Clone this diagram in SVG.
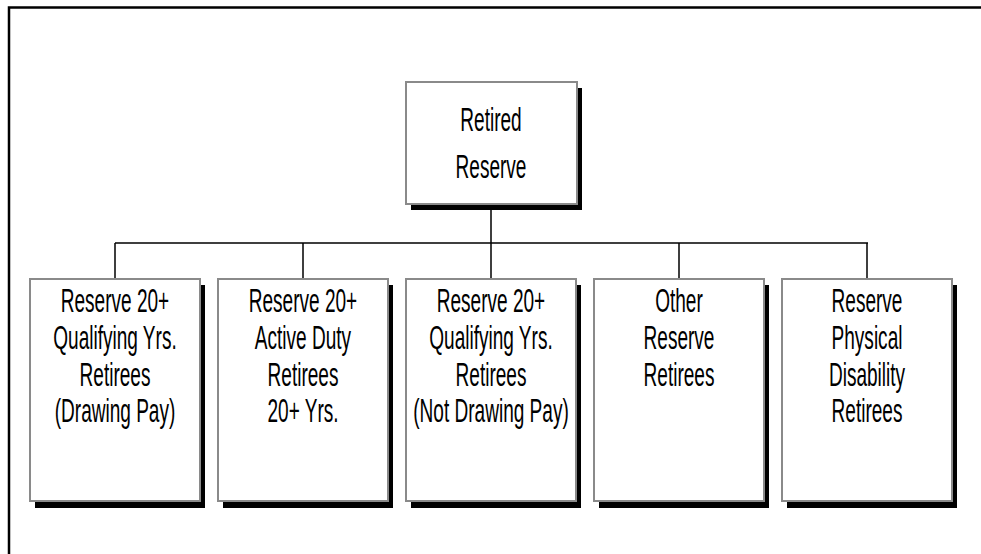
<svg xmlns="http://www.w3.org/2000/svg" width="981" height="554" viewBox="0 0 981 554">
<style>
.box{fill:#fff;stroke:#8a8a8a;stroke-width:2}
.sh{fill:#000}
.t{font-family:"Liberation Sans",Arial,sans-serif;font-size:34px;fill:#000;text-anchor:middle}
.ln{stroke:#000;stroke-width:1.5;fill:none}
</style>
<rect width="981" height="554" fill="#fff"/>
<path d="M9 554 V7.5 H981" fill="none" stroke="#000" stroke-width="2.5"/>
<g id="connectors">
<path class="ln" d="M491 209 V243 M115 243 H868 M115 243 V279 M303 243 V279 M491 243 V279 M679 243 V279 M867 243 V279"/>
</g>
<g id="root">
<rect class="sh" x="411" y="88" width="171" height="122"/>
<rect class="box" x="406" y="82" width="171" height="122"/>
<text class="t" transform="translate(491 131) scale(0.56 1)">Retired</text>
<text class="t" transform="translate(491 178) scale(0.56 1)">Reserve</text>
</g>
<g id="n1">
<rect class="sh" x="35" y="285" width="170" height="223"/>
<rect class="box" x="30" y="279" width="170" height="222"/>
<text class="t" transform="translate(115 312) scale(0.56 1)">Reserve 20+</text>
<text class="t" transform="translate(115 349) scale(0.56 1)">Qualifying Yrs.</text>
<text class="t" transform="translate(115 386) scale(0.56 1)">Retirees</text>
<text class="t" transform="translate(115 422) scale(0.56 1)">(Drawing Pay)</text>
</g>
<g id="n2">
<rect class="sh" x="223" y="285" width="170" height="223"/>
<rect class="box" x="218" y="279" width="170" height="222"/>
<text class="t" transform="translate(303 312) scale(0.56 1)">Reserve 20+</text>
<text class="t" transform="translate(303 349) scale(0.56 1)">Active Duty</text>
<text class="t" transform="translate(303 386) scale(0.56 1)">Retirees</text>
<text class="t" transform="translate(303 422) scale(0.56 1)">20+ Yrs.</text>
</g>
<g id="n3">
<rect class="sh" x="411" y="285" width="170" height="223"/>
<rect class="box" x="406" y="279" width="170" height="222"/>
<text class="t" transform="translate(491 312) scale(0.56 1)">Reserve 20+</text>
<text class="t" transform="translate(491 349) scale(0.56 1)">Qualifying Yrs.</text>
<text class="t" transform="translate(491 386) scale(0.56 1)">Retirees</text>
<text class="t" transform="translate(491 422) scale(0.56 1)">(Not Drawing Pay)</text>
</g>
<g id="n4">
<rect class="sh" x="599" y="285" width="170" height="223"/>
<rect class="box" x="594" y="279" width="170" height="222"/>
<text class="t" transform="translate(679 312) scale(0.56 1)">Other</text>
<text class="t" transform="translate(679 349) scale(0.56 1)">Reserve</text>
<text class="t" transform="translate(679 386) scale(0.56 1)">Retirees</text>
</g>
<g id="n5">
<rect class="sh" x="787" y="285" width="170" height="223"/>
<rect class="box" x="782" y="279" width="170" height="222"/>
<text class="t" transform="translate(867 312) scale(0.56 1)">Reserve</text>
<text class="t" transform="translate(867 349) scale(0.56 1)">Physical</text>
<text class="t" transform="translate(867 386) scale(0.56 1)">Disability</text>
<text class="t" transform="translate(867 422) scale(0.56 1)">Retirees</text>
</g>
</svg>
